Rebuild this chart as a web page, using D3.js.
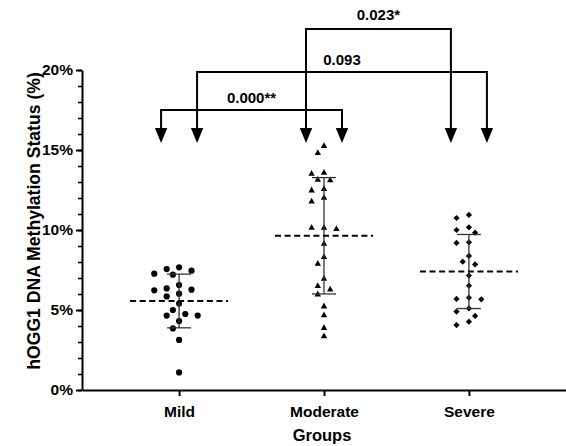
<!DOCTYPE html>
<html>
<head>
<meta charset="utf-8">
<script src="https://cdn.jsdelivr.net/npm/d3@7"></script>
<style>
  body{margin:0;background:#fff}
  svg{display:block}
  text{font-family:"Liberation Sans",Arial,sans-serif;font-weight:bold;fill:#000}
</style>
</head>
<body>
<svg id="chart" width="566" height="446"></svg>
<script>
// Scatter dot plot with mean (dashed) and SD bars, plus comparison brackets
const groups = ['Mild', 'Moderate', 'Severe']
const mild = [7.67, 7.56, 7.46, 7.27, 7.21, 6.56, 6.35, 6.27, 6.23, 6.02, 5.85, 5.40, 5.00, 4.75, 4.65, 4.65, 4.31, 3.85, 3.13, 1.10]
const moderate = [15.27, 14.83, 13.60, 13.54, 13.17, 13.13, 12.58, 12.50, 12.04, 11.81, 10.17, 10.17, 10.08, 9.17, 8.33, 7.92, 6.98, 6.52, 6.31, 6.00, 5.25, 4.69, 3.90, 3.38]
const severe = [10.94, 10.75, 10.17, 10.00, 9.83, 9.23, 9.19, 8.38, 8.02, 7.85, 7.15, 6.52, 5.77, 5.69, 5.67, 5.10, 4.90, 4.63, 4.27, 4.06]
const yTicks = [0, 5, 10, 15, 20]
const yMinorTicks = d3.range(0, 21)
const comparisons = [
  {a:'Mild', b:'Moderate', p:'0.000**'},
  {a:'Mild', b:'Severe', p:'0.093'},
  {a:'Moderate', b:'Severe', p:'0.023*'}
]

;(function(){
  const svg = d3.select('#chart')
  const left = 82, right = 566, top = 70, bottom = 390

  const x = d3.scalePoint().domain(groups).range([left, right]).padding(0.67)
  const y = d3.scaleLinear().domain([0, 20]).range([bottom, top])

  const series = [
    {name:'Mild', values:mild, shape:'circle'},
    {name:'Moderate', values:moderate, shape:'triangle'},
    {name:'Severe', values:severe, shape:'diamond'}
  ]

  // simple beeswarm: top-down, first free slot 0, -1, +1, -2, +2 ...
  function swarm(vals, step, dist){
    const placed = []
    vals.slice().sort((a,b)=>b-a).forEach(v=>{
      const py = y(v)
      for(let i=0;i<40;i++){
        const k = i===0 ? 0 : (i%2 ? -Math.ceil(i/2) : Math.ceil(i/2))
        const px = k*step
        if(placed.every(p=>Math.hypot(p.x-px, p.y-py) >= dist)){ placed.push({x:px, y:py, v}); break }
      }
    })
    return placed
  }

  const shapes = {
    circle: 'M3.1,0A3.1,3.1,0,1,1,-3.1,0A3.1,3.1,0,1,1,3.1,0Z',
    triangle: 'M0,-3.4L3.2,2.4L-3.2,2.4Z',
    diamond: 'M0,-3.1L3.1,0L0,3.1L-3.1,0Z'
  }

  // minor ticks
  svg.append('g').attr('transform', `translate(${left},0)`)
    .call(d3.axisLeft(y).tickValues(yMinorTicks).tickSize(4).tickSizeOuter(0).tickFormat(''))
    .call(g=>g.select('.domain').remove())
    .call(g=>g.selectAll('line').attr('stroke','#000').attr('stroke-width',1.6))

  // y axis
  svg.append('g').attr('transform', `translate(${left},0)`)
    .call(d3.axisLeft(y).tickValues(yTicks).tickSize(6).tickSizeOuter(0).tickPadding(3).tickFormat(d=>d+'%'))
    .call(g=>g.select('.domain').attr('stroke','#000').attr('stroke-width',2))
    .call(g=>g.selectAll('line').attr('stroke','#000').attr('stroke-width',2))
    .call(g=>g.selectAll('text').attr('font-size',15.5).attr('font-family',null))

  // x axis
  svg.append('g').attr('transform', `translate(0,${bottom})`)
    .call(d3.axisBottom(x).tickSize(6).tickSizeOuter(0).tickPadding(10))
    .call(g=>g.select('.domain').attr('stroke','#000').attr('stroke-width',2))
    .call(g=>g.selectAll('line').attr('stroke','#000').attr('stroke-width',2))
    .call(g=>g.selectAll('text').attr('font-size',15.5).attr('font-family',null))

  svg.append('text').attr('x', (left+right)/2 - 2).attr('y', 441).attr('text-anchor','middle')
    .attr('font-size',16.5).text('Groups')
  svg.append('text').attr('transform','rotate(-90)').attr('x', -221).attr('y', 40)
    .attr('text-anchor','middle').attr('font-size',17.6).text('hOGG1 DNA Methylation Status (%)')

  // points, mean and SD
  series.forEach(s=>{
    const cx = x(s.name)
    const m = d3.mean(s.values), sd = d3.deviation(s.values)
    const g = svg.append('g')
    g.selectAll('path.pt').data(swarm(s.values, 6.2, 8)).enter().append('path')
      .attr('class','pt').attr('d', shapes[s.shape])
      .attr('transform', d=>`translate(${cx+d.x},${d.y})`).attr('fill','#000')
    g.append('line').attr('x1',cx).attr('x2',cx).attr('y1',y(m+sd)).attr('y2',y(m-sd))
      .attr('stroke','#333').attr('stroke-width',1.3)
    ;[m+sd, m-sd].forEach(v=>{
      g.append('line').attr('x1',cx-12).attr('x2',cx+12).attr('y1',y(v)).attr('y2',y(v))
        .attr('stroke','#333').attr('stroke-width',1.3)
    })
    g.append('line').attr('x1',cx-49).attr('x2',cx+49).attr('y1',y(m)).attr('y2',y(m))
      .attr('stroke','#000').attr('stroke-width',2).attr('stroke-dasharray','6,3.6')
  })

  // comparison brackets with arrows
  const levelY = [110, 72, 29]
  const sides = [[-1, 1], [1, 1], [-1, -1]]
  const tipY = 143, headH = 15, headW = 6.2, off = 18
  comparisons.forEach((c,i)=>{
    const x1 = x(c.a) + sides[i][0]*off, x2 = x(c.b) + sides[i][1]*off
    const ly = levelY[i]
    const g = svg.append('g')
    g.append('path').attr('d', `M${x1},${tipY-headH}V${ly}H${x2}V${tipY-headH}`)
      .attr('fill','none').attr('stroke','#000').attr('stroke-width',2)
    ;[x1, x2].forEach(ax=>{
      g.append('path').attr('d', `M${ax-headW},${tipY-headH}L${ax+headW},${tipY-headH}L${ax},${tipY}Z`).attr('fill','#000')
    })
    g.append('text').attr('x',(x1+x2)/2).attr('y', ly - (i===2 ? 9 : 7)).attr('text-anchor','middle')
      .attr('font-size',15).text(c.p)
  })
})()
</script>
</body>
</html>
